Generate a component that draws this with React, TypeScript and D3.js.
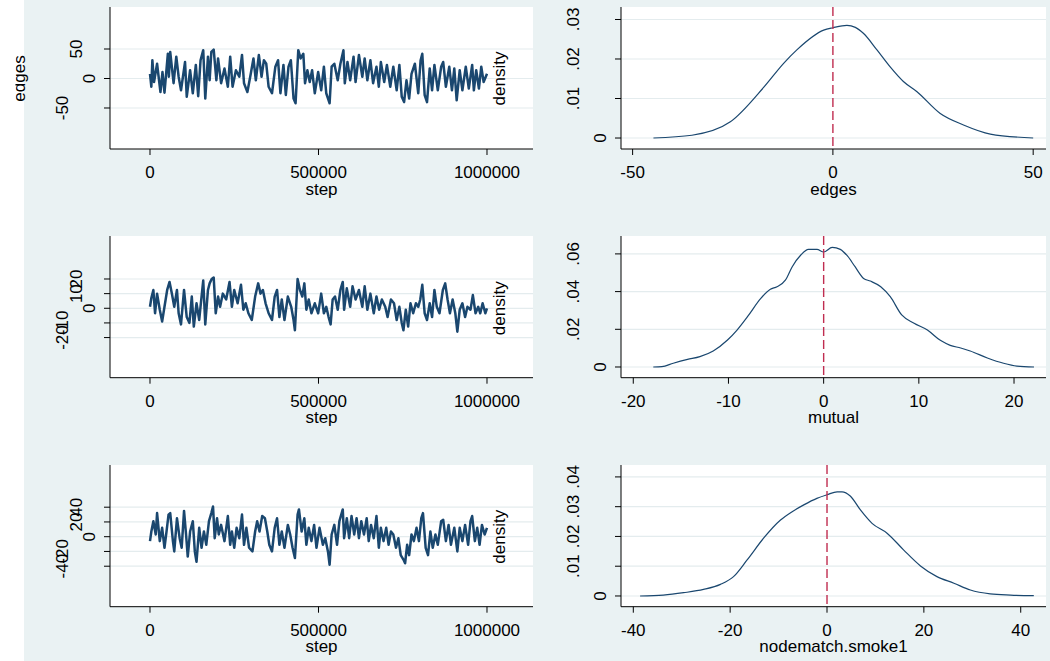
import * as d3 from 'd3';

// trace samples: [step in thousands, value]
const edgesTrace: [number, number][] = [
  [0, 8], [4, -14], [7, 31], [12, -6], [21, 25], [31, -23], [37, 11], [43, -24], [53, 42], [56, 3],
  [60, 45], [70, -8], [78, 37], [85, 3], [92, -20], [104, 28], [109, -31], [119, 14], [127, -25], [136, 23],
  [143, -30], [150, 31], [158, 48], [164, -34], [172, 37], [177, -3], [182, 45], [189, 49], [197, -3], [202, 34],
  [211, -8], [221, 17], [231, -14], [238, 37], [245, -14], [255, 14], [265, 3], [273, 40], [279, -8], [289, -23],
  [299, 8], [307, 34], [314, -3], [323, 40], [331, 3], [338, 31], [345, 25], [352, -14], [362, -25], [372, 20],
  [380, 31], [387, -25], [396, 23], [403, -28], [411, 20], [418, 31], [426, -34], [432, -42], [440, 48], [447, 34],
  [455, 42], [460, -8], [467, 14], [474, -6], [481, 14], [489, -25], [499, 11], [508, -20], [516, 20], [523, -25],
  [533, -42], [539, 20], [547, 25], [557, -3], [565, 25], [574, 48], [578, -8], [586, 28], [594, -3], [604, 37],
  [610, -6], [620, 40], [630, 3], [637, 34], [645, -3], [654, 31], [662, -8], [672, 20], [679, -14], [685, 28],
  [695, -6], [703, 23], [713, -14], [722, 20], [732, -20], [740, 23], [747, -31], [754, -40], [761, -3], [769, -34],
  [776, 8], [786, 25], [796, -25], [803, 31], [808, 42], [815, -28], [822, -40], [830, 17], [837, -20], [844, 23],
  [854, -20], [864, 20], [870, 28], [878, -14], [888, 20], [896, -20], [903, 17], [910, -37], [919, 14], [927, -20],
  [937, 20], [946, -17], [956, 23], [961, -20], [968, 14], [976, -17], [983, 20], [990, -6], [1000, 8],
];

const mutualTrace: [number, number][] = [
  [0, 1], [4, 7], [10, 12.5], [15, -3.4], [21, 10], [29, -1], [36, -9], [43, 1], [51, 12.5], [58, 18],
  [65, 10], [72, 1], [80, 12.5], [85, -3.4], [92, -11], [101, 12.5], [109, -6], [117, -10], [124, 8], [130, -12.5],
  [138, 3.4], [146, -8], [153, 8], [158, 19], [164, -11], [172, 12.5], [177, 17], [183, 20], [189, 21], [195, -3.4],
  [202, 8], [208, 1], [216, 10], [226, 6], [236, 18], [243, 1], [250, 12.5], [260, 3.4], [270, 16], [277, -1],
  [284, 3.4], [292, -3.4], [302, -8], [312, 8], [321, 17], [328, 10], [335, 12.5], [343, 3.4], [352, -3.4], [362, -8],
  [370, 8], [377, 12.5], [384, -6], [391, 6], [399, -8], [409, 8], [419, 1], [426, -8], [430, -15], [438, 20],
  [445, 12.5], [452, 8], [458, 17], [464, -1], [471, 6], [479, -3.4], [489, 3.4], [499, -3.4], [508, 10], [516, -3.4],
  [523, 1], [530, -6], [536, -11], [542, 6], [549, 8], [557, -1], [565, 12.5], [572, 18], [576, -1], [584, 13.6],
  [594, 1], [601, 15], [610, 6], [620, 12.5], [630, 1], [637, 15], [645, -1], [654, 10], [664, -3.4], [672, 8],
  [680, -1], [688, 6], [698, 1], [705, -6], [715, 6], [724, 3.4], [732, -8], [740, 1], [747, -10], [752, -15],
  [759, -1], [766, -12.5], [773, 3.4], [781, -3.4], [789, 3.4], [796, 1], [802, 6], [808, 16], [815, -3.4], [822, -8],
  [830, 3.4], [837, -6], [844, 12.5], [851, 1], [859, -3.4], [869, 12.5], [876, 17], [883, 6], [890, -3.4], [898, 6],
  [906, -3.4], [912, -16], [919, -1], [927, 3.4], [935, -6], [942, 1], [951, -1], [958, 9], [966, -3.4], [974, 1],
  [980, -3.4], [987, 3.4], [995, -3.4], [1000, 0],
];

const smokeTrace: [number, number][] = [
  [0, -6], [4, 7], [10, 21], [17, 3], [21, 32], [29, -6], [36, 12], [43, -15], [49, 7], [55, 30],
  [60, 32], [68, -6], [72, -20], [80, 25], [88, -2], [94, -15], [101, 35], [107, 3], [112, -27], [119, 7],
  [127, 21], [133, -20], [138, -34], [146, 12], [153, -15], [160, 7], [167, -11], [175, 21], [182, 32], [187, 41],
  [192, -2], [199, 25], [204, 3], [211, 16], [221, -6], [231, 28], [238, -11], [243, 7], [250, -15], [257, 12],
  [265, -2], [273, 30], [279, -11], [286, 12], [294, -15], [304, -20], [312, 7], [318, 21], [325, 7], [333, 28],
  [341, 25], [348, 7], [354, -11], [362, -20], [370, 12], [377, 25], [384, -11], [391, 7], [399, -15], [409, 16],
  [416, 3], [423, -15], [430, -29], [438, 30], [442, 37], [450, 7], [458, 25], [464, -11], [471, 12], [479, -6],
  [487, 16], [494, -15], [503, 12], [513, -11], [520, -2], [528, -20], [533, -38], [539, 3], [547, 16], [555, -11],
  [562, 21], [572, 37], [576, -2], [584, 25], [591, -2], [598, 28], [606, 3], [613, 25], [620, -2], [627, 21],
  [635, 3], [643, 25], [649, -6], [656, 16], [664, -2], [672, 28], [679, -15], [685, 12], [693, -6], [701, 12],
  [708, -11], [715, 7], [722, 3], [730, -15], [737, -2], [744, -25], [752, -31], [757, -36], [763, -11], [769, -25],
  [776, 3], [783, -6], [791, 12], [798, -6], [805, 25], [810, 32], [818, -15], [825, -25], [832, 7], [839, -15],
  [847, 3], [854, -11], [864, 21], [870, 23], [878, -6], [886, 16], [893, -11], [903, 12], [912, -20], [919, 12],
  [927, -6], [935, 16], [944, -11], [951, 21], [956, 28], [964, -6], [971, 12], [978, -11], [985, 16], [993, 3],
  [1000, 12],
];

// kernel density curves: [value, density]
const edgesDensity: [number, number][] = [
  [-44.8, 0], [-35.2, 0.0007], [-25.6, 0.0041], [-17.3, 0.0128], [-12.3, 0.0189], [-9.0, 0.0223],
  [-2.3, 0.0273], [0, 0.0279], [3.5, 0.0285], [5.6, 0.028], [7.6, 0.0265], [11, 0.0223],
  [14.3, 0.018], [17.6, 0.0143], [21, 0.0117], [26.8, 0.0062], [32.6, 0.0033], [39.3, 0.001], [50, 0],
];

const mutualDensity: [number, number][] = [
  [-17.9, 0], [-17.0, 0.0002], [-15.8, 0.002], [-14.3, 0.004], [-13, 0.0055], [-11.6, 0.0085],
  [-10.1, 0.0143], [-9.1, 0.0196], [-8.0, 0.0267], [-6.6, 0.0364], [-5.6, 0.0412], [-4.9, 0.0426],
  [-4.0, 0.0462], [-3.3, 0.0532], [-2.4, 0.0594], [-1.6, 0.0624], [-0.7, 0.0624], [0, 0.061],
  [0.9, 0.0635], [1.75, 0.0624], [2.5, 0.0589], [3.3, 0.0532], [4.2, 0.047], [4.9, 0.0456],
  [6.0, 0.0426], [7.0, 0.0373], [8.2, 0.0276], [9.5, 0.0232], [10.9, 0.0196], [12.3, 0.014],
  [13.3, 0.0115], [14.4, 0.0101], [15.4, 0.0085], [17.2, 0.0048], [18.9, 0.002], [20.3, 0.0005], [22.1, 0],
];

const smokeDensity: [number, number][] = [
  [-38.6, 0], [-33.8, 0.0003], [-29.6, 0.0011], [-25.5, 0.0022], [-22.0, 0.0039], [-19.3, 0.0065],
  [-16.5, 0.0121], [-13.1, 0.0194], [-9.6, 0.0255], [-7.2, 0.0283], [-4.8, 0.0306], [-2.1, 0.0328],
  [0, 0.034], [2.1, 0.035], [3.1, 0.035], [4.8, 0.0336], [6.9, 0.0289], [9.3, 0.0244],
  [12.4, 0.0211], [15.8, 0.0155], [19.3, 0.0101], [22.7, 0.0065], [26.2, 0.0043], [29.6, 0.002],
  [33.7, 0.0007], [37.9, 0.0003], [42.7, 0.0001],
];

const stepTicks = [0, 500000, 1000000];
const stepTickLabels = ['0', '500000', '1000000'];

const edgesTicks = [-50, 0, 50];
const mutualTicks = [-20, -10, 0, 10, 20];
const smokeTicks = [-40, -20, 0, 20, 40];

const edgesDensityTicks = [0, 0.01, 0.02, 0.03];
const edgesDensityLabels = ['0', '.01', '.02', '.03'];
const mutualDensityTicks = [0, 0.02, 0.04, 0.06];
const mutualDensityLabels = ['0', '.02', '.04', '.06'];
const smokeDensityTicks = [0, 0.01, 0.02, 0.03, 0.04];
const smokeDensityLabels = ['0', '.01', '.02', '.03', '.04'];

const W = 1050;
const H = 661;
const BG = '#eaf2f3';
const GRID = '#e4ecee';
const NAVY = '#1a476f';
const REF = '#c02d50';
const FONT = '"Liberation Sans", Arial, Helvetica, sans-serif';
const FS = 17;

const LEFT: [number, number] = [110, 533];
const RIGHT: [number, number] = [621, 1046];

const rows = [
  {
    top: 7, bottom: 149,
    trace: edgesTrace, traceDomain: [-119.5, 121.2], traceTicks: edgesTicks,
    density: edgesDensity, dxDomain: [-52.9, 53.2], dxTicks: edgesTicks,
    dyDomain: [-0.00278, 0.03316], dyTicks: edgesDensityTicks, dyLabels: edgesDensityLabels,
    xTitle: 'edges',
  },
  {
    top: 236, bottom: 377.7,
    trace: mutualTrace, traceDomain: [-47.4, 49.35], traceTicks: mutualTicks,
    density: mutualDensity, dxDomain: [-21.29, 23.36], dxTicks: mutualTicks,
    dyDomain: [-0.00568, 0.0695], dyTicks: mutualDensityTicks, dyLabels: mutualDensityLabels,
    xTitle: 'mutual',
  },
  {
    top: 465, bottom: 606.7,
    trace: smokeTrace, traceDomain: [-94.9, 97.2], traceTicks: smokeTicks,
    density: smokeDensity, dxDomain: [-42.54, 45.22], dxTicks: smokeTicks,
    dyDomain: [-0.0036, 0.044], dyTicks: smokeDensityTicks, dyLabels: smokeDensityLabels,
    xTitle: 'nodematch.smoke1',
  },
];

// rotated y tick labels sit further from the axis the longer they are
const rotLabelX = (axisX: number, label: string) => axisX - 15 - (label.length - 1) * 13.5;

function XAxis({ x, ticks, labels, y, title }: any) {
  return (
    <g>
      <line x1={x.range()[0]} x2={x.range()[1]} y1={y} y2={y} stroke="#000" strokeWidth={1} />
      {ticks.map((t: number, i: number) => (
        <g key={i}>
          <line x1={x(t)} x2={x(t)} y1={y} y2={y + 6} stroke="#000" strokeWidth={1} />
          <text x={x(t)} y={y + 29} textAnchor="middle" fontSize={FS}>{labels[i]}</text>
        </g>
      ))}
      <text x={(x.range()[0] + x.range()[1]) / 2} y={y + 45.5} textAnchor="middle" fontSize={FS}>
        {title}
      </text>
    </g>
  );
}

function YAxis({ yScale, ticks, labels, x, right, top, bottom }: any) {
  return (
    <g>
      {ticks.map((t: number, i: number) => (
        <line key={'g' + i} x1={x} x2={right} y1={yScale(t)} y2={yScale(t)} stroke={GRID} strokeWidth={1.2} />
      ))}
      <line x1={x} x2={x} y1={top} y2={bottom} stroke="#000" strokeWidth={1} />
      {ticks.map((t: number, i: number) => (
        <g key={i}>
          <line x1={x - 6} x2={x} y1={yScale(t)} y2={yScale(t)} stroke="#000" strokeWidth={1} />
          <text
            transform={`translate(${rotLabelX(x, labels[i])},${yScale(t)}) rotate(-90)`}
            textAnchor="middle"
            fontSize={FS}
          >
            {labels[i]}
          </text>
        </g>
      ))}
    </g>
  );
}

function Row({ row, idx }: any) {
  const sx = d3.scaleLinear().domain([-118694, 1136499]).range(LEFT);
  const ty = d3.scaleLinear().domain(row.traceDomain).range([row.bottom, row.top]);
  const dx = d3.scaleLinear().domain(row.dxDomain).range(RIGHT);
  const dy = d3.scaleLinear().domain(row.dyDomain).range([row.bottom, row.top]);

  const traceLine = d3.line<[number, number]>()
    .x((d) => sx(d[0] * 1000))
    .y((d) => ty(d[1]));
  const densLine = d3.line<[number, number]>()
    .x((d) => dx(d[0]))
    .y((d) => dy(d[1]))
    .curve(d3.curveMonotoneX);

  const midY = ty(0);
  const tickLabels = row.traceTicks.map((t: number) => String(t));
  const dxLabels = row.dxTicks.map((t: number) => String(t));

  return (
    <g>
      <rect x={LEFT[0]} y={row.top} width={LEFT[1] - LEFT[0]} height={row.bottom - row.top} fill="#fff" />
      <rect x={RIGHT[0]} y={row.top} width={RIGHT[1] - RIGHT[0]} height={row.bottom - row.top} fill="#fff" />

      {/* trace panel */}
      <YAxis yScale={ty} ticks={row.traceTicks} labels={tickLabels} x={LEFT[0]} right={LEFT[1]} top={row.top} bottom={row.bottom} />
      <path d={traceLine(row.trace) || ''} fill="none" stroke={NAVY} strokeWidth={2.5} strokeLinejoin="round" />
      <XAxis x={sx} ticks={stepTicks} labels={stepTickLabels} y={row.bottom} title="step" />

      {/* density panel */}
      <YAxis yScale={dy} ticks={row.dyTicks} labels={row.dyLabels} x={RIGHT[0]} right={RIGHT[1]} top={row.top} bottom={row.bottom} />
      <path d={densLine(row.density) || ''} fill="none" stroke={NAVY} strokeWidth={1.2} />
      <line x1={dx(0)} x2={dx(0)} y1={row.top} y2={row.bottom} stroke={REF} strokeWidth={1.4} strokeDasharray="9 4" />
      <XAxis x={dx} ticks={row.dxTicks} labels={dxLabels} y={row.bottom} title={row.xTitle} />

      <text transform={`translate(505,${midY}) rotate(-90)`} textAnchor="middle" fontSize={FS}>density</text>
      {idx === 0 && (
        <g clipPath="url(#edgeclip)">
          <text transform={`translate(25,${midY}) rotate(-90)`} textAnchor="middle" fontSize={FS}>
            edges
          </text>
        </g>
      )}
    </g>
  );
}

export default function App() {
  return (
    <svg
      width={W}
      height={H}
      viewBox={`0 0 ${W} ${H}`}
      style={{ position: 'absolute', left: 0, top: 0, display: 'block' }}
      fontFamily={FONT}
    >
      <defs>
        <clipPath id="edgeclip">
          <rect x={15.5} y={0} width={40} height={H} />
        </clipPath>
      </defs>
      <rect x={0} y={0} width={W} height={H} fill={BG} />
      <rect x={0} y={0} width={24} height={H} fill="#fff" />
      {rows.map((r, i) => (
        <Row key={i} row={r} idx={i} />
      ))}
    </svg>
  );
}
